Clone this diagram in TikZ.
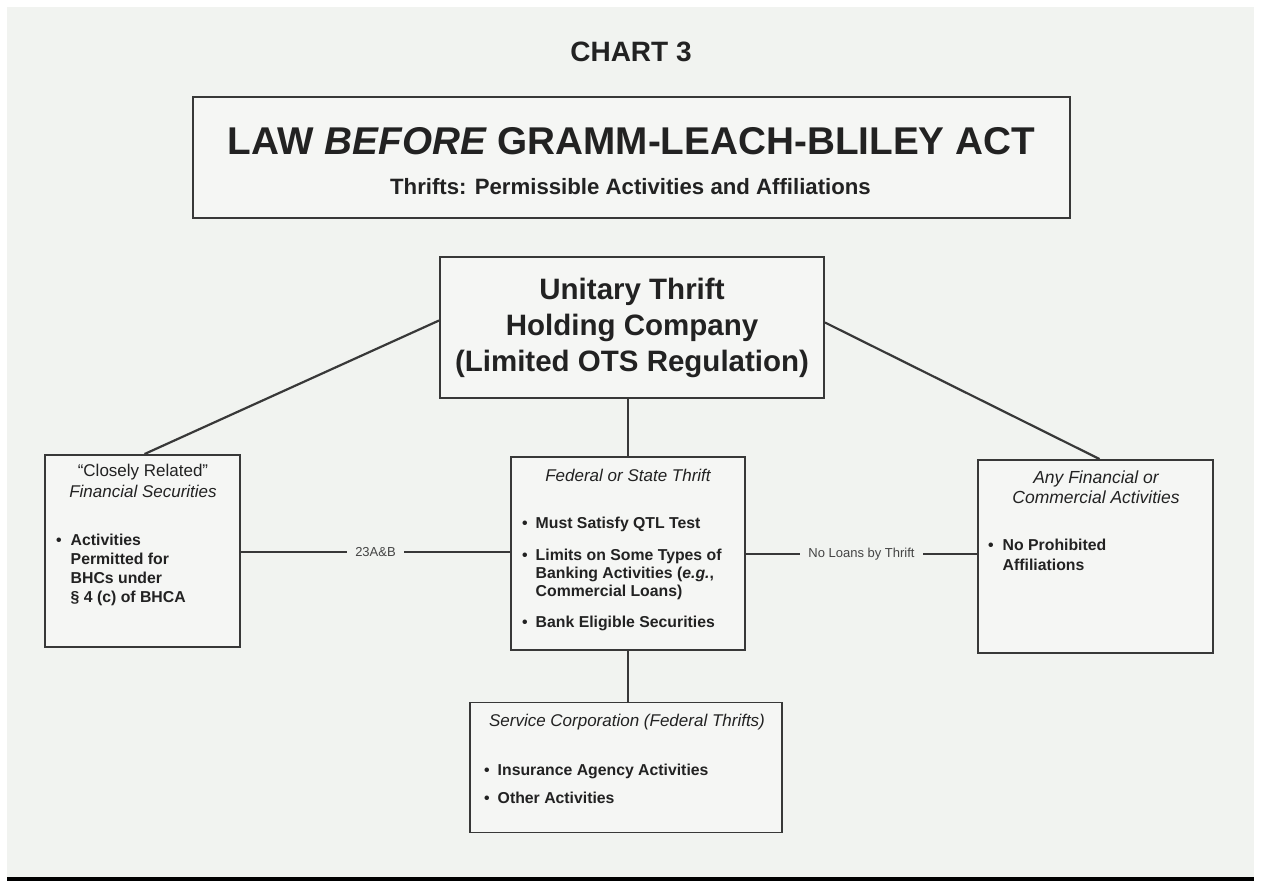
\documentclass[tikz,border=0pt]{standalone}
\usepackage{fontspec}
\setmainfont{Liberation Sans}
\definecolor{bg}{HTML}{F1F3F0}
\definecolor{boxbg}{HTML}{F5F6F4}
\definecolor{ink}{HTML}{222222}
\definecolor{linec}{HTML}{383838}
\definecolor{lblc}{HTML}{444444}
\newcommand\bfs{\bfseries\fontsize{15.8}{18}\selectfont}
\begin{document}
\begin{tikzpicture}[x=1pt,y=-1pt,
  box/.style={draw=linec,line width=1.9pt,fill=boxbg,inner sep=0pt},
  conn/.style={draw=linec,line width=2.2pt},
  lbl/.style={fill=bg,text=lblc,font=\fontsize{13}{15}\selectfont,inner xsep=8pt,inner ysep=2pt},
  head/.style={text=ink,align=center,inner sep=0pt,font=\itshape\fontsize{17}{20}\selectfont},
  item/.style={text=ink,anchor=base west,inner sep=0pt,font=\bfs},
  big/.style={text=ink,align=center,inner sep=0pt}]
\useasboundingbox (0,0) rectangle (1261,882);
\fill[white] (0,0) rectangle (1261,882);
\fill[bg] (7,7) rectangle (1254,877);
\fill[black] (7,876.5) rectangle (1254,881);

% boxes
\node[box,minimum width=877pt,minimum height=121pt] (title) at (631.5,157.5) {};
\node[box,minimum width=384pt,minimum height=141pt] (unit) at (632,327.5) {};
\node[box,minimum width=195pt,minimum height=192pt] (left) at (142.5,551) {};
\node[box,minimum width=234pt,minimum height=193pt] (mid) at (628,553.5) {};
\node[box,minimum width=235pt,minimum height=193pt] (right) at (1095.5,556.5) {};
\node[box,minimum width=312pt,minimum height=130pt] (bot) at (626,767.5) {};

% connectors
\draw[conn] ([yshift=7pt]unit.west) -- ([xshift=2pt]left.north);
\draw[conn] ([yshift=5pt]unit.east) -- ([xshift=4pt]right.north);
\draw[conn] (mid.north) -- (mid.north |- unit.south);
\draw[conn] (mid.south) -- (mid.south |- bot.north);
\draw[conn] (left.east |- 0,552) -- node[lbl] {23A\&B} (mid.west |- 0,552);
\draw[conn] (mid.east |- 0,554) -- node[lbl] {No Loans by Thrift} (right.west |- 0,554);

% headings
\node[big,font=\bfseries\fontsize{28}{30}\selectfont] (chart) at (631,52) {CHART 3};
\node[big,font=\bfseries\fontsize{38.7}{44}\selectfont] (ttl) at (631.5,141) {LAW \textit{BEFORE} GRAMM-LEACH-BLILEY ACT};
\node[big,font=\bfseries\fontsize{22.2}{26}\selectfont] (sub) at (630.5,187) {Thrifts: Permissible Activities and Affiliations};
\node[big,font=\bfseries\fontsize{29.5}{36}\selectfont] (unittxt) at (632,328) {Unitary Thrift\\Holding Company\\(Limited OTS Regulation)};

% left box
\node[head,font=\fontsize{17}{21.5}\selectfont] (lhead) at (143,481) {“Closely Related”\\\textit{Financial Securities}};
\node[item,font=\bfseries\fontsize{15.8}{19}\selectfont] (litem) at (56,545) {\begin{tabular}[t]{@{}l@{\hspace{9pt}}l@{}}•&Activities\\&Permitted for\\&BHCs under\\&\S\ 4 (c) of BHCA\end{tabular}};

% middle box
\node[head] (mhead) at (628,475) {Federal or State Thrift};
\node[item] (m1) at (522,528) {\begin{tabular}[t]{@{}l@{\hspace{8pt}}l@{}}•&Must Satisfy QTL Test\end{tabular}};
\node[item] (m2) at (522,560) {\begin{tabular}[t]{@{}l@{\hspace{8pt}}l@{}}•&Limits on Some Types of\\&Banking Activities (\textit{e.g.},\\&Commercial Loans)\end{tabular}};
\node[item] (m3) at (522,627) {\begin{tabular}[t]{@{}l@{\hspace{8pt}}l@{}}•&Bank Eligible Securities\end{tabular}};

% right box
\node[head,font=\itshape\fontsize{17.5}{20}\selectfont] (rhead) at (1096,487) {Any Financial or\\Commercial Activities};
\node[item,font=\bfseries\fontsize{15.8}{20}\selectfont] (r1) at (988,550) {\begin{tabular}[t]{@{}l@{\hspace{9pt}}l@{}}•&No Prohibited\\&Affiliations\end{tabular}};

% bottom box
\node[head] (bhead) at (627,722) {Service Corporation (Federal Thrifts)};
\node[item] (b1) at (484,775) {\begin{tabular}[t]{@{}l@{\hspace{8pt}}l@{}}•&Insurance Agency Activities\end{tabular}};
\node[item] (b2) at (484,803) {\begin{tabular}[t]{@{}l@{\hspace{8pt}}l@{}}•&Other Activities\end{tabular}};
\end{tikzpicture}
\end{document}
